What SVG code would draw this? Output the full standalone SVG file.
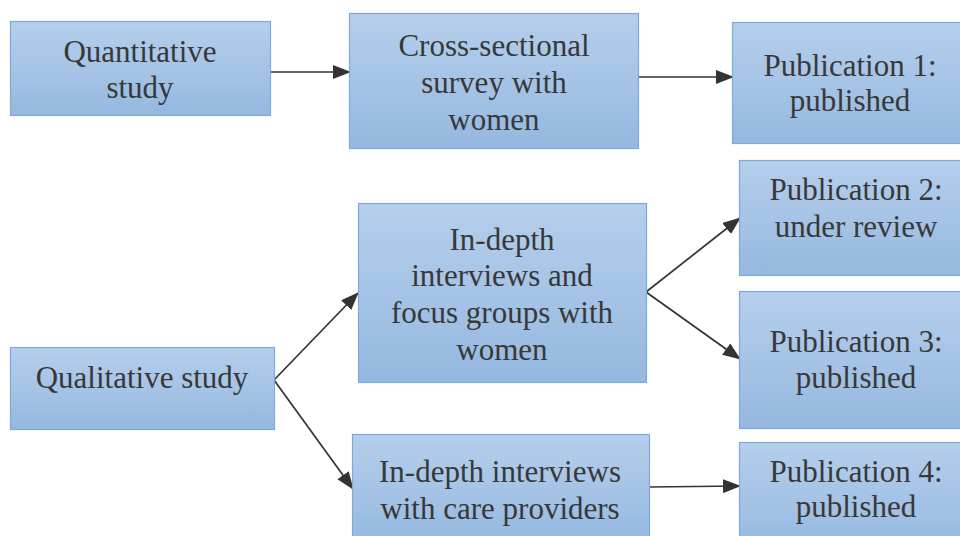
<svg xmlns="http://www.w3.org/2000/svg" width="960" height="536" viewBox="0 0 960 536">
  <defs>
    <linearGradient id="boxFill" x1="0" y1="0" x2="0" y2="1">
      <stop offset="0" stop-color="#b5cfec"/>
      <stop offset="1" stop-color="#95b8e0"/>
    </linearGradient>
    <marker id="arrow" markerUnits="userSpaceOnUse" markerWidth="18" markerHeight="14" refX="17" refY="7" orient="auto">
      <path d="M0,0 L18,7 L0,14 Z" fill="#333333"/>
    </marker>
  </defs>
  <style>
    .box { fill: url(#boxFill); stroke: #7eaadb; stroke-width: 1.2; }
    .label { font-family: "Liberation Serif", "Times New Roman", serif; font-size: 31px; fill: #383838; text-anchor: middle; }
    .conn { stroke: #333333; stroke-width: 1.7; fill: none; marker-end: url(#arrow); }
  </style>
  <rect width="960" height="536" fill="#ffffff"/>

  <g id="connectors">
    <line class="conn" x1="271" y1="72" x2="350" y2="72"/>
    <line class="conn" x1="639" y1="77" x2="733" y2="77"/>
    <line class="conn" x1="274" y1="380" x2="358" y2="293"/>
    <line class="conn" x1="274" y1="380" x2="353" y2="489"/>
    <line class="conn" x1="646" y1="292" x2="740" y2="218"/>
    <line class="conn" x1="646" y1="292" x2="740" y2="359"/>
    <line class="conn" x1="649" y1="487" x2="740" y2="486"/>
  </g>

  <g id="quantitative">
    <rect class="box" x="10.5" y="21.5" width="260" height="94"/>
    <text class="label" x="140" y="62">Quantitative</text>
    <text class="label" x="140" y="98">study</text>
  </g>

  <g id="cross-sectional">
    <rect class="box" x="349.5" y="13.5" width="289" height="135"/>
    <text class="label" x="494" y="56">Cross-sectional</text>
    <text class="label" x="494" y="93">survey with</text>
    <text class="label" x="494" y="130">women</text>
  </g>

  <g id="publication-1">
    <rect class="box" x="732.5" y="22.5" width="240" height="121"/>
    <text class="label" x="850" y="76">Publication 1:</text>
    <text class="label" x="850" y="111">published</text>
  </g>

  <g id="qualitative">
    <rect class="box" x="10.5" y="347.5" width="264" height="82"/>
    <text class="label" x="142" y="388">Qualitative study</text>
  </g>

  <g id="interviews-focus-groups">
    <rect class="box" x="358.5" y="203.5" width="288" height="179"/>
    <text class="label" x="502" y="250">In-depth</text>
    <text class="label" x="502" y="286">interviews and</text>
    <text class="label" x="502" y="323">focus groups with</text>
    <text class="label" x="502" y="360">women</text>
  </g>

  <g id="interviews-care-providers">
    <rect class="box" x="352.5" y="434.5" width="297" height="110"/>
    <text class="label" x="500" y="482">In-depth interviews</text>
    <text class="label" x="500" y="519">with care providers</text>
  </g>

  <g id="publication-2">
    <rect class="box" x="739.5" y="160.5" width="240" height="115"/>
    <text class="label" x="856" y="200">Publication 2:</text>
    <text class="label" x="856" y="237">under review</text>
  </g>

  <g id="publication-3">
    <rect class="box" x="739.5" y="291.5" width="240" height="137"/>
    <text class="label" x="856" y="352">Publication 3:</text>
    <text class="label" x="856" y="388">published</text>
  </g>

  <g id="publication-4">
    <rect class="box" x="739.5" y="442.5" width="240" height="110"/>
    <text class="label" x="856" y="482">Publication 4:</text>
    <text class="label" x="856" y="517">published</text>
  </g>
</svg>
